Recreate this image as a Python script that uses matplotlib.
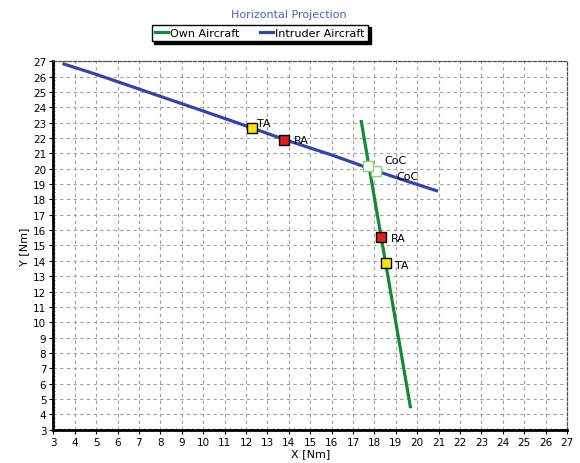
import matplotlib
matplotlib.use('Agg')
from matplotlib import pyplot as plt
from matplotlib.ticker import MultipleLocator

# intruder track
intruder_x = [3.5, 5.0, 7.4, 9.5, 12.3, 13.8, 16.0, 18.1, 19.5, 20.9]
intruder_y = [26.82, 26.15, 25.0, 24.0, 22.65, 21.9, 20.9, 19.85, 19.2, 18.57]

# own aircraft track
own_x = [17.39, 19.68]
own_y = [23.07, 4.5]

# events: (x, y, label)
intruder_events = [(12.27, 22.65, 'TA'), (13.76, 21.87, 'RA'), (18.09, 19.83, 'CoC')]
own_events = [(17.7, 20.2, 'CoC'), (18.29, 15.53, 'RA'), (18.53, 13.86, 'TA')]

event_colors = {'TA': '#f2e600', 'RA': '#e02020', 'CoC': 'white'}
event_edges = {'TA': 'black', 'RA': 'black', 'CoC': '#8fd07a'}

fig = plt.figure(figsize=(5.8, 4.64), dpi=100)
ax = fig.add_axes([0.0919, 0.0718, 0.8857, 0.794])

own_line, = ax.plot(own_x, own_y, color='#128a3a', lw=2.3, zorder=3)
intr_line, = ax.plot(intruder_x, intruder_y, color='#3345a5', lw=2.3, zorder=3)

for x, y, lab in intruder_events + own_events:
    ax.plot(x, y, marker='s', ms=7.5, mfc=event_colors[lab], mec=event_edges[lab],
            mew=1.0, zorder=5, ls='none')

# text labels
labels = [(12.5, 23.0, 'TA'), (14.25, 21.85, 'RA'), (18.45, 20.55, 'CoC'),
          (19.05, 19.5, 'CoC'), (18.75, 15.5, 'RA'), (18.95, 13.75, 'TA')]
for x, y, t in labels:
    ax.text(x, y, t, fontsize=8, ha='left', va='center', zorder=6)

ax.set_xlim(3, 27)
ax.set_ylim(3, 27)
ax.xaxis.set_major_locator(MultipleLocator(1))
ax.yaxis.set_major_locator(MultipleLocator(1))
ax.xaxis.set_minor_locator(MultipleLocator(0.25))
ax.yaxis.set_minor_locator(MultipleLocator(0.25))
ax.tick_params(axis='both', which='major', labelsize=7.5, length=3, width=0.8,
               direction='out', pad=2)
ax.tick_params(axis='both', which='minor', length=1.5, width=0.5, direction='in',
               color='#404040')
ax.grid(True, which='major', color='#a0a0a0', ls=(0, (3, 3)), lw=0.8)

ax.spines['left'].set_linewidth(2)
ax.spines['bottom'].set_linewidth(2)
for s in ['top', 'right']:
    ax.spines[s].set_linestyle((0, (2.5, 1.5)))
    ax.spines[s].set_color('#505050')
    ax.spines[s].set_linewidth(0.9)

ax.set_xlabel('X [Nm]', fontsize=8, labelpad=1)
ax.set_ylabel('Y [Nm]', fontsize=8, labelpad=3)

fig.text(0.498, 0.968, 'Horizontal Projection', fontsize=8, color='#4a64b8',
         ha='center', va='center')

leg = fig.legend([own_line, intr_line], ['Own Aircraft', 'Intruder Aircraft'],
                 loc='center', bbox_to_anchor=(0.448, 0.927), ncol=2, fontsize=8,
                 frameon=True, fancybox=False, edgecolor='black',
                 shadow={'color': 'black', 'alpha': 1}, handlelength=1.2,
                 handletextpad=0.2, columnspacing=1.8, borderpad=0.3)
leg.get_frame().set_linewidth(1.0)

fig.savefig('out.png', dpi=100)
